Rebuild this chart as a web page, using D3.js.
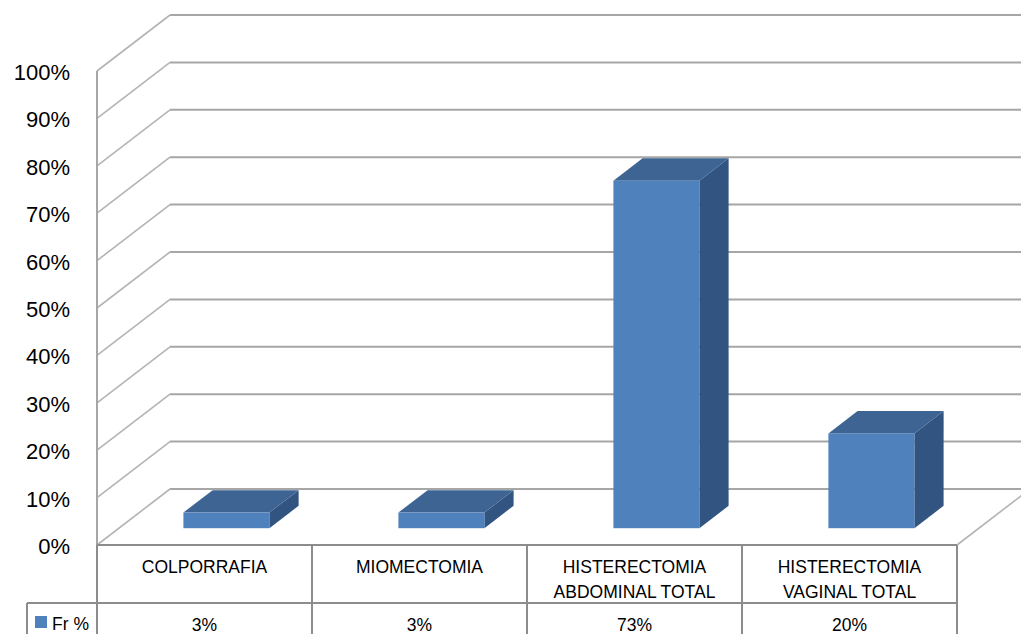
<!DOCTYPE html>
<html><head><meta charset="utf-8">
<script src="https://cdn.jsdelivr.net/npm/d3@7"></script>
<style>html,body{margin:0;padding:0;background:#fff;overflow:hidden}svg{display:block}</style>
</head><body>
<svg id="c" width="1021" height="634"></svg>
<script>
const categories = [["COLPORRAFIA"], ["MIOMECTOMIA"], ["HISTERECTOMIA", "ABDOMINAL TOTAL"], ["HISTERECTOMIA", "VAGINAL TOTAL"]];
const values = [3.3, 3.3, 73.3, 20];
const valueLabels = ["3%", "3%", "73%", "20%"];
const ticks = [0, 10, 20, 30, 40, 50, 60, 70, 80, 90, 100];
const seriesName = "Fr %";

const svg = d3.select("#c");
const font = "'Liberation Sans', Arial, sans-serif";
const left = 97, right = 957, y0 = 545, y100 = 71;
const DX = 73, DY = -56;           // depth offset of back wall
const d0 = 0.3, d1 = 0.7;          // bar depth range (fraction)
const gridColor = "#a6a6a6", tableColor = "#8c8c8c";

const y = d3.scaleLinear().domain([0, 100]).range([y0, y100]);
const x = d3.scaleBand().domain(d3.range(categories.length)).range([left, right]).paddingInner(0).paddingOuter(0);

// left wall diagonals & back wall gridlines
const g = svg.append("g");
ticks.forEach(t => {
  const yf = y(t);
  g.append("line").attr("x1", left).attr("y1", yf).attr("x2", left + DX).attr("y2", yf + DY)
    .attr("stroke", "#b4b4b4").attr("stroke-width", 1.6);
  g.append("line").attr("x1", left + DX).attr("y1", yf + DY).attr("x2", right + DX).attr("y2", yf + DY)
    .attr("stroke", gridColor).attr("stroke-width", 2);
});
// floor right edge
g.append("line").attr("x1", right).attr("y1", y0).attr("x2", right + DX).attr("y2", y0 + DY)
  .attr("stroke", "#b4b4b4").attr("stroke-width", 1.6);
// vertical axis
g.append("line").attr("x1", left).attr("y1", y100).attr("x2", left).attr("y2", 634)
  .attr("stroke", gridColor).attr("stroke-width", 2);

// tick labels
svg.append("g").selectAll("text").data(ticks).join("text")
  .attr("x", 70).attr("y", d => y(d) + 1).attr("dy", "0.36em")
  .attr("text-anchor", "end").attr("font-family", font).attr("font-size", 22).attr("fill", "#000")
  .text(d => d + "%");

// bars
const bw = x.bandwidth() * 0.4;
const bars = svg.append("g").selectAll("g").data(values).join("g");
bars.each(function(v, i) {
  const gg = d3.select(this);
  const cx = x(i) + x.bandwidth() / 2;
  const xl = cx - bw / 2 + d0 * DX, xr = cx + bw / 2 + d0 * DX;
  const yt = y(v) + d0 * DY, yb = y(0) + d0 * DY;
  const ddx = (d1 - d0) * DX, ddy = (d1 - d0) * DY;
  gg.append("polygon").attr("points", [[xr, yt], [xr + ddx, yt + ddy], [xr + ddx, yb + ddy], [xr, yb]].join(" "))
    .attr("fill", "#325480");
  gg.append("polygon").attr("points", [[xl, yt], [xr, yt], [xr + ddx, yt + ddy], [xl + ddx, yt + ddy]].join(" "))
    .attr("fill", "#3d6492");
  gg.append("rect").attr("x", xl).attr("y", yt).attr("width", xr - xl).attr("height", yb - yt)
    .attr("fill", "#4f81bd");
});

// data table
const tb = svg.append("g");
const rowTop = y0, rowMid = 603, rowBot = 640;
tb.append("line").attr("x1", left).attr("y1", rowTop).attr("x2", right).attr("y2", rowTop).attr("stroke", tableColor).attr("stroke-width", 2);
tb.append("line").attr("x1", 27).attr("y1", rowMid).attr("x2", right).attr("y2", rowMid).attr("stroke", tableColor).attr("stroke-width", 2);
tb.append("line").attr("x1", 27).attr("y1", rowMid).attr("x2", 27).attr("y2", rowBot).attr("stroke", tableColor).attr("stroke-width", 2);
d3.range(categories.length + 1).forEach(i => {
  const xx = i < categories.length ? x(i) : right;
  tb.append("line").attr("x1", xx).attr("y1", rowTop).attr("x2", xx).attr("y2", rowBot).attr("stroke", tableColor).attr("stroke-width", 2);
});
categories.forEach((c, i) => {
  const cx = x(i) + x.bandwidth() / 2;
  const t = tb.append("text").attr("text-anchor", "middle").attr("font-family", font).attr("font-size", 17.5).attr("fill", "#000");
  c.forEach((line, k) => t.append("tspan").attr("x", cx).attr("y", 566.5 + k * 25).attr("dy", "0.36em").text(line));
  tb.append("text").attr("x", cx).attr("y", 624.5).attr("dy", "0.36em").attr("text-anchor", "middle")
    .attr("font-family", font).attr("font-size", 17.5).attr("fill", "#000").text(valueLabels[i]);
});
// legend key
tb.append("rect").attr("x", 35).attr("y", 616).attr("width", 12).attr("height", 12).attr("fill", "#4f81bd");
tb.append("text").attr("x", 52).attr("y", 623.5).attr("dy", "0.36em").attr("font-family", font).attr("font-size", 17.5).attr("fill", "#000").text(seriesName);
</script>
</body></html>
